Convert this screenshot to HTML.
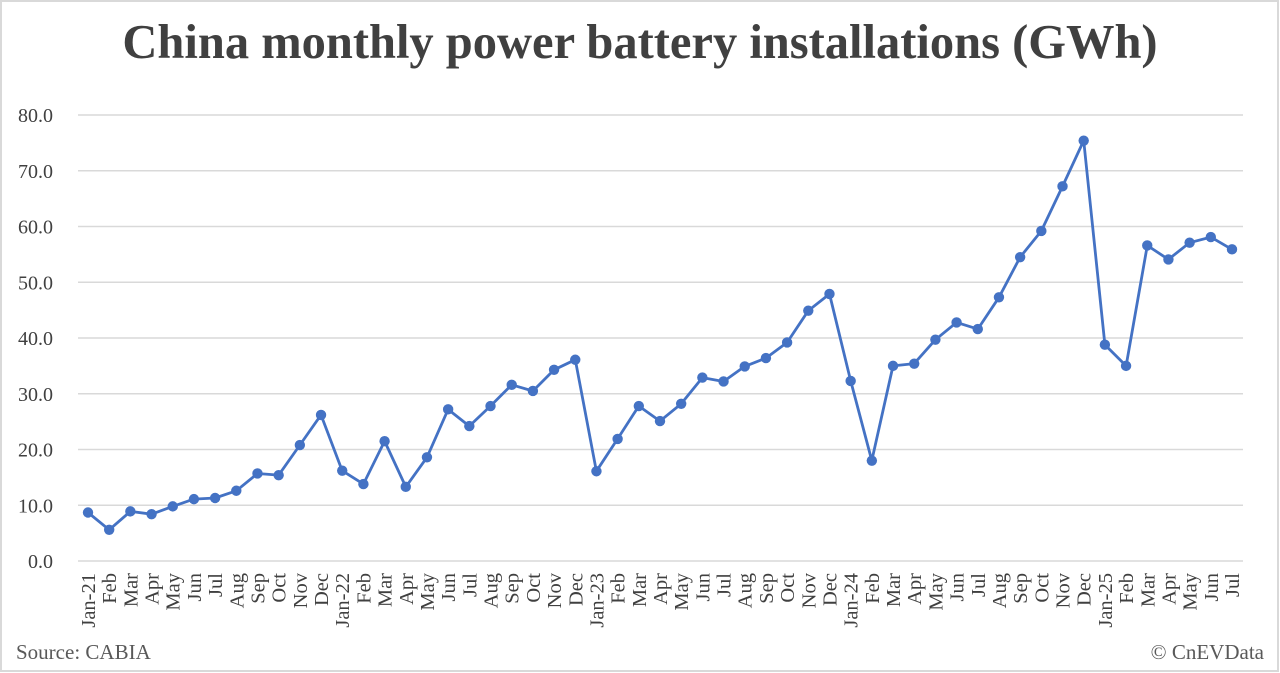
<!DOCTYPE html>
<html><head><meta charset="utf-8"><style>
html,body{margin:0;padding:0;background:#fff;}
svg{display:block;}
text{font-family:"Liberation Serif",serif;}
</style></head><body>
<svg width="1280" height="673" viewBox="0 0 1280 673" xmlns="http://www.w3.org/2000/svg">
<rect x="1" y="1" width="1277" height="670" fill="#fff" stroke="#d9d9d9" stroke-width="2"/>
<text x="640" y="58" text-anchor="middle" font-size="48.5" font-weight="bold" fill="#404040">China monthly power battery installations (GWh)</text>
<g id="grid" stroke="#d9d9d9" stroke-width="1.5"></g>
<g id="ylab" font-size="20" fill="#404040" text-anchor="end"></g>
<g id="xlab" font-size="20.5" fill="#404040"></g>
<polyline id="line" fill="none" stroke="#4472C4" stroke-width="2.8" stroke-linejoin="round"/>
<g id="dots" fill="#4472C4"></g>
<text x="16" y="659" font-size="21" fill="#595959">Source: CABIA</text>
<text x="1264" y="659" font-size="21" fill="#595959" text-anchor="end">© CnEVData</text>
</svg>
<script>
var d=[8.7,5.6,8.9,8.4,9.8,11.1,11.3,12.6,15.7,15.4,20.8,26.2,
16.2,13.8,21.5,13.3,18.6,27.2,24.2,27.8,31.6,30.5,34.3,36.1,
16.1,21.9,27.8,25.1,28.2,32.9,32.2,34.9,36.4,39.2,44.9,47.9,
32.3,18.0,35.0,35.4,39.7,42.8,41.6,47.3,54.5,59.2,67.2,75.4,
38.8,35.0,56.6,54.1,57.1,58.1,55.9];
var m=["Jan","Feb","Mar","Apr","May","Jun","Jul","Aug","Sep","Oct","Nov","Dec"];
var ns="http://www.w3.org/2000/svg";
function el(t,a,p,txt){var e=document.createElementNS(ns,t);for(var k in a)e.setAttribute(k,a[k]);if(txt)e.textContent=txt;document.getElementById(p).appendChild(e);return e;}
function Y(v){return 561-v*5.575;}
function X(i){return 88+i*21.185;}
for(var v=0;v<=80;v+=10){
 el("line",{x1:78,x2:1243,y1:Y(v),y2:Y(v)},"grid");
 el("text",{x:53,y:Y(v)+7},"ylab",v.toFixed(1));
}
var pts=[];
for(var i=0;i<d.length;i++){
 var x=X(i),y=Y(d[i]);pts.push(x.toFixed(1)+","+y.toFixed(1));
 el("circle",{cx:x,cy:y,r:5.2},"dots");
 var mo=i%12,lab=mo==0?("Jan-"+(21+i/12)):m[mo];
 el("text",{x:0,y:0,transform:"translate("+(x+7)+",573) rotate(-90)","text-anchor":"end"},"xlab",lab);
}
document.getElementById("line").setAttribute("points",pts.join(" "));
</script>
</body></html>
